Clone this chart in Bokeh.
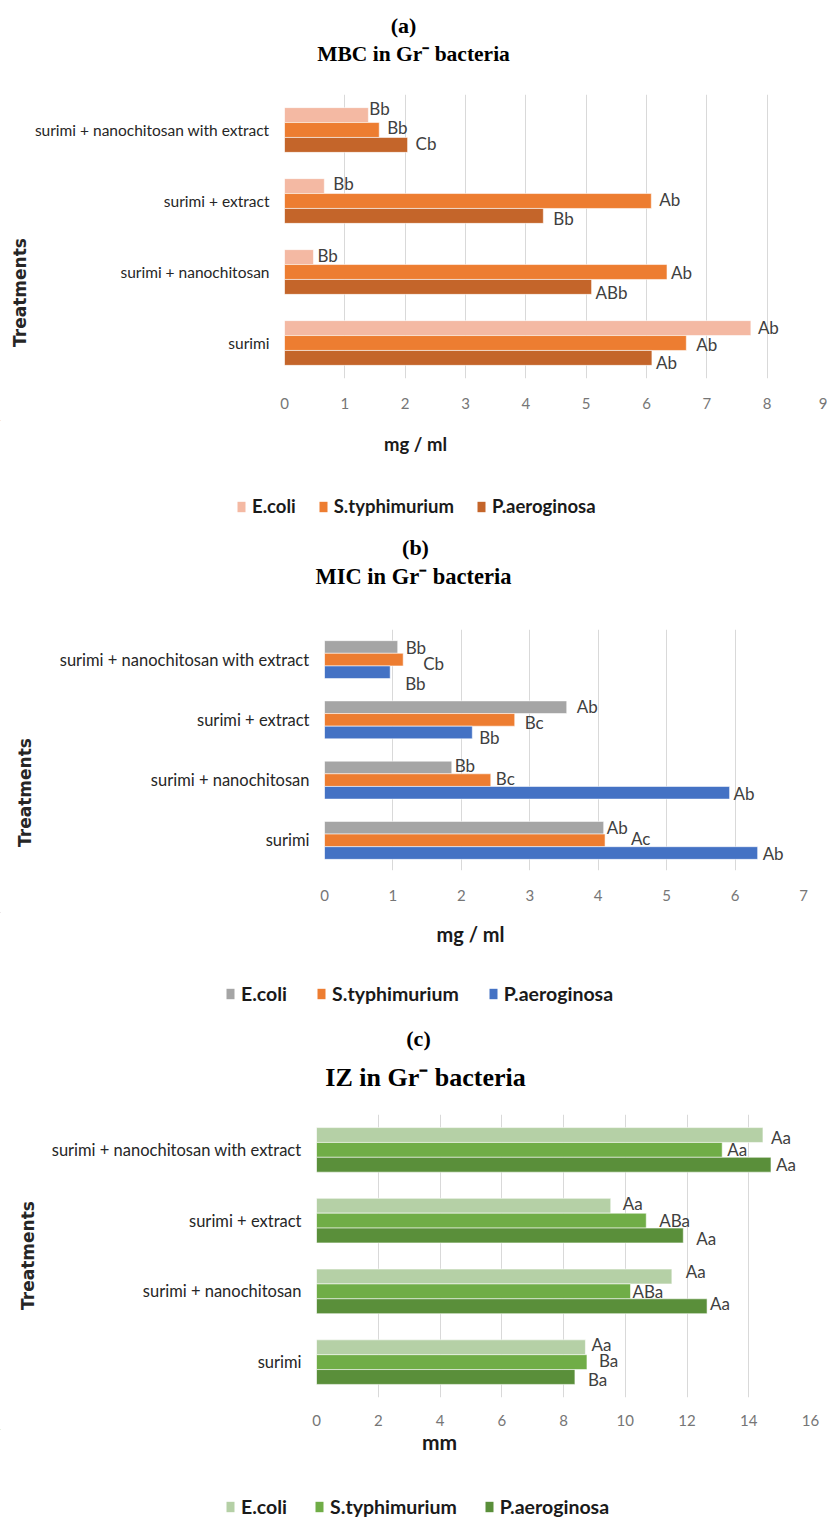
from math import pi

from bokeh.core.properties import value
from bokeh.embed import file_html
from bokeh.layouts import column, row
from bokeh.models import (ColumnDataSource, FactorRange, Label, LabelSet, Legend,
                          LegendItem, Range1d, SingleIntervalTicker)
from bokeh.plotting import figure
from bokeh.resources import INLINE
from bokeh.transform import dodge

# ---------------------------------------------------------------- data
treatments = ["surimi", "surimi + nanochitosan", "surimi + extract",
              "surimi + nanochitosan with extract"]
bacteria = ["E.coli", "S.typhimurium", "P.aeroginosa"]

# (a) minimum bactericidal concentration, mg/ml
mbc_ecoli = [7.73, 0.48, 0.66, 1.39]
mbc_styph = [6.66, 6.34, 6.08, 1.57]
mbc_paer = [6.09, 5.09, 4.29, 2.04]
mbc_ecoli_sig = ["Ab", "Bb", "Bb", "Bb"]
mbc_styph_sig = ["Ab", "Ab", "Ab", "Bb"]
mbc_paer_sig = ["Ab", "ABb", "Bb", "Cb"]

# (b) minimum inhibitory concentration, mg/ml
mic_ecoli = [4.08, 1.86, 3.54, 1.07]
mic_styph = [4.10, 2.43, 2.78, 1.15]
mic_paer = [6.33, 5.92, 2.16, 0.96]
mic_ecoli_sig = ["Ab", "Bb", "Ab", "Bb"]
mic_styph_sig = ["Ac", "Bc", "Bc", "Cb"]
mic_paer_sig = ["Ab", "Ab", "Bb", "Bb"]

# (c) inhibition zone, mm
iz_ecoli = [8.71, 11.51, 9.53, 14.46]
iz_styph = [8.76, 10.17, 10.68, 13.14]
iz_paer = [8.37, 12.65, 11.88, 14.72]
iz_ecoli_sig = ["Aa", "Aa", "Aa", "Aa"]
iz_styph_sig = ["Ba", "ABa", "ABa", "Aa"]
iz_paer_sig = ["Ba", "Aa", "Aa", "Aa"]

# ---------------------------------------------------------------- styling
W = 827
BAR_H = 0.21
SANS = "Lato"
SERIF = "Liberation Serif"

panels = [
    dict(tag="(a)", title="MBC in Gr\u207b bacteria", unit="mg / ml",
         values=[mbc_ecoli, mbc_styph, mbc_paer],
         sig=[mbc_ecoli_sig, mbc_styph_sig, mbc_paer_sig],
         colors=["#F4B9A3", "#ED7D31", "#C4652A"],
         # label nudges (px right, px down) per bar, bottom -> top category
         nudge=[[(7, -1), (4, -2), (9, -3), (1, -7)],
                [(10, 1), (4, 0), (8, -2), (8, -3)],
                [(4, 5), (4, 6), (10, 3), (8, -1)]],
         xmax=9, step=1, cat_size="15.5px", title_size="21.5px",
         head_h=90, tag_xy=(403, 25), title_xy=(413, 53),
         strip_w=30, chart_h=330, fl=284, fr=827, border_top=4, border_bottom=42,
         axis_so=15, treat_xy=(19, 292 - 90),
         foot_h=100, unit_xy=(415, 23), unit_size="18.5px",
         legend_x=236, legend_c=87, legend_size="18.5px", legend_gap=22),
    dict(tag="(b)", title="MIC in Gr\u207b bacteria", unit="mg / ml",
         values=[mic_ecoli, mic_styph, mic_paer],
         sig=[mic_ecoli_sig, mic_styph_sig, mic_paer_sig],
         colors=["#A5A5A5", "#ED7D31", "#4472C4"],
         nudge=[[(3, 0), (3, -2), (10, -1), (8, 1)],
                [(26, -2), (5, -2), (10, 3), (20, 4)],
                [(5, 0), (4, 1), (7, 5), (15, 11)]],
         xmax=7, step=1, cat_size="16.5px", title_size="22.5px",
         head_h=90, tag_xy=(415, 27), title_xy=(413, 56),
         strip_w=40, chart_h=302, fl=324, fr=803, border_top=19, border_bottom=42,
         axis_so=15, treat_xy=(24, 792 - 610),
         foot_h=100, unit_xy=(470, 21), unit_size="20px",
         legend_x=225, legend_c=83, legend_size="19.5px", legend_gap=29),
    dict(tag="(c)", title="IZ in Gr\u207b bacteria", unit="mm",
         values=[iz_ecoli, iz_styph, iz_paer],
         sig=[iz_ecoli_sig, iz_styph_sig, iz_paer_sig],
         colors=["#B5D0A6", "#70AD47", "#5A8F3A"],
         nudge=[[(6, -3), (14, -5), (12, -2), (8, 2)],
                [(12, -2), (2, 0), (13, 0), (5, 0)],
                [(13, 3), (3, -3), (13, 3), (5, 0)]],
         xmax=16, step=2, cat_size="16.5px", title_size="26px",
         head_h=92, tag_xy=(418, 26), title_xy=(425, 65),
         strip_w=40, chart_h=325, fl=316, fr=810, border_top=10, border_bottom=32,
         axis_so=13, treat_xy=(27, 1255 - 1104),
         foot_h=90, unit_xy=(439, 12), unit_size="21px",
         legend_x=225, legend_c=79, legend_size="19.5px", legend_gap=27),
]


def text_canvas(width, height):
    """A blank figure whose frame is the whole canvas, y growing downwards."""
    p = figure(width=width, height=height, x_range=Range1d(0, width),
               y_range=Range1d(height, 0), x_axis_type=None, y_axis_type=None,
               output_backend="svg", toolbar_location=None, frame_align=False,
               min_border=0, outline_line_color=None,
               background_fill_color="white", border_fill_color="white")
    p.xgrid.grid_line_color = None
    p.ygrid.grid_line_color = None
    return p


def header(cfg):
    p = text_canvas(W, cfg["head_h"])
    p.add_layout(Label(x=cfg["tag_xy"][0], y=cfg["tag_xy"][1], text=cfg["tag"],
                       text_align="center", text_baseline="middle",
                       text_font=SERIF, text_font_style="bold",
                       text_font_size="22px", text_color="#000000"))
    p.add_layout(Label(x=cfg["title_xy"][0], y=cfg["title_xy"][1], text=cfg["title"],
                       text_align="center", text_baseline="middle",
                       text_font=SERIF, text_font_style="bold",
                       text_font_size=cfg["title_size"], text_color="#000000"))
    return p


def chart(cfg):
    h = cfg["chart_h"]
    fl, fr = cfg["fl"], cfg["fr"]
    p = figure(width=W - cfg["strip_w"], height=h,
               x_range=Range1d(0, cfg["xmax"]),
               y_range=FactorRange(factors=treatments),
               output_backend="svg", toolbar_location=None, frame_align=False,
               min_border_left=fl - cfg["strip_w"], min_border_right=W - fr,
               min_border_top=cfg["border_top"], min_border_bottom=cfg["border_bottom"],
               outline_line_color=None, background_fill_color="white",
               border_fill_color="white")

    offsets = [BAR_H, 0.0, -BAR_H]
    for k in range(len(bacteria)):
        src = ColumnDataSource(dict(
            cat=treatments,
            val=cfg["values"][k],
            sig=cfg["sig"][k],
            dx=[n[0] for n in cfg["nudge"][k]],
            dy=[-n[1] for n in cfg["nudge"][k]],
        ))
        p.hbar(y=dodge("cat", offsets[k], range=p.y_range), left=0, right="val",
               height=BAR_H, source=src, fill_color=cfg["colors"][k],
               line_color="white", line_width=0.8, line_alpha=0.7)
        p.add_layout(LabelSet(x="val", y=dodge("cat", offsets[k], range=p.y_range),
                              text="sig", source=src, x_offset="dx", y_offset="dy",
                              text_align="left", text_baseline="middle",
                              text_font=value(SANS), text_font_size=value("17px"),
                              text_color="#404040"))

    p.xaxis.ticker = SingleIntervalTicker(interval=cfg["step"])
    p.xaxis.axis_line_color = None
    p.xaxis.major_tick_line_color = None
    p.xaxis.minor_tick_line_color = None
    p.xaxis.major_tick_out = 0
    p.xaxis.major_label_standoff = cfg["axis_so"]
    p.xaxis.major_label_text_font = SANS
    p.xaxis.major_label_text_font_size = "15px"
    p.xaxis.major_label_text_color = "#767676"

    p.yaxis.axis_line_color = None
    p.yaxis.major_tick_line_color = None
    p.yaxis.major_tick_out = 0
    p.yaxis.major_label_standoff = 15
    p.yaxis.major_label_text_font = SANS
    p.yaxis.major_label_text_font_size = cfg["cat_size"]
    p.yaxis.major_label_text_color = "#262626"

    p.xgrid.grid_line_color = "#D9D9D9"
    p.ygrid.grid_line_color = None
    return p


def strip(cfg):
    p = text_canvas(cfg["strip_w"], cfg["chart_h"])
    p.add_layout(Label(x=cfg["treat_xy"][0], y=cfg["treat_xy"][1], text="Treatments",
                       angle=pi / 2, text_align="center", text_baseline="middle",
                       text_font="DejaVu Sans", text_font_style="bold",
                       text_font_size="17px", text_color="#262626"))
    return p


def footer(cfg):
    h = cfg["foot_h"]
    p = text_canvas(W, h)
    p.add_layout(Label(x=cfg["unit_xy"][0], y=cfg["unit_xy"][1], text=cfg["unit"],
                       text_align="center", text_baseline="middle",
                       text_font=SANS, text_font_style="bold",
                       text_font_size=cfg["unit_size"], text_color="#1a1a1a"))
    # legend swatches in the series colours (their bar sits far outside the view)
    swatches = [p.hbar(y=[-5000], left=[-5000], right=[-4990], height=1,
                       fill_color=c, line_color=None)
                for c in cfg["colors"]]
    item_h = 20
    legend = Legend(items=[LegendItem(label=n, renderers=[r])
                           for n, r in zip(bacteria, swatches)],
                    orientation="horizontal",
                    location=(cfg["legend_x"], h - cfg["legend_c"] - item_h / 2),
                    glyph_width=10, glyph_height=13, label_height=item_h,
                    label_standoff=6, spacing=cfg["legend_gap"], padding=0, margin=0,
                    label_text_font=SANS, label_text_font_style="bold",
                    label_text_font_size=cfg["legend_size"],
                    label_text_color="#1a1a1a",
                    border_line_color=None, background_fill_alpha=0)
    p.add_layout(legend)
    return p


parts = []
for cfg in panels:
    parts.append(header(cfg))
    parts.append(row(strip(cfg), chart(cfg), spacing=0))
    parts.append(footer(cfg))

layout = column(*parts, spacing=0)
open("out.html", "w").write(file_html(layout, INLINE))
